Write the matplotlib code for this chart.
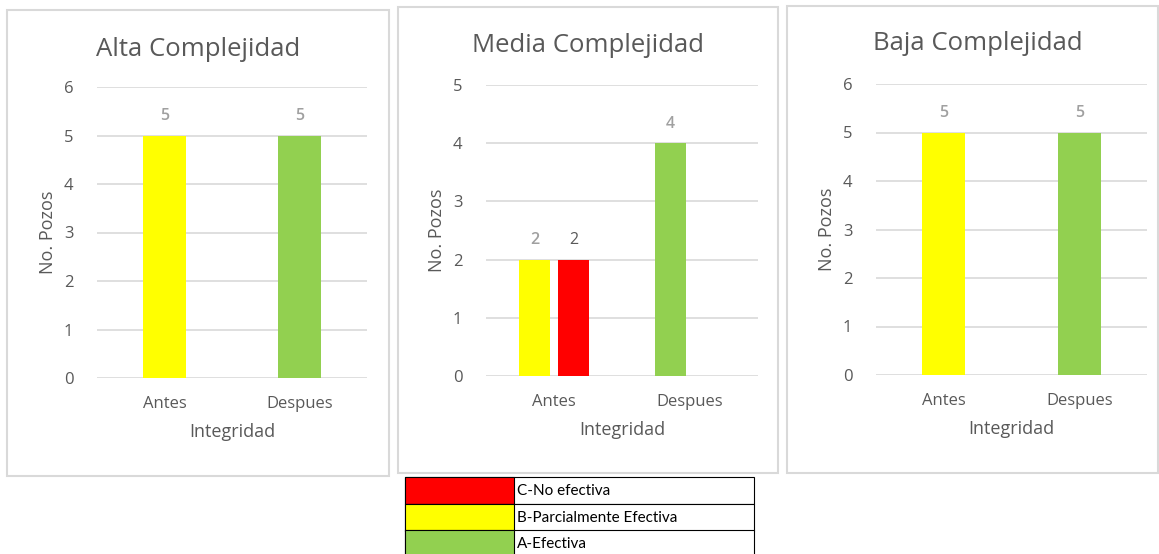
import matplotlib
matplotlib.use("Agg")
import matplotlib.pyplot as plt
from matplotlib.patches import Rectangle

plt.rcParams['font.family'] = ['Open Sans', 'DejaVu Sans']

categories = ["Antes", "Despues"]
titles = ["Alta Complejidad", "Media Complejidad", "Baja Complejidad"]

# Alta: one series, per-point colours
alta_values = [5, 5]
alta_colors = ["#FFFF00", "#92D050"]
# Media: two series per category
media_s1_values = [2, 4]
media_s1_colors = ["#FFFF00", "#92D050"]
media_s2_values = [2, None]
media_s2_colors = ["#FF0000", "#FF0000"]
# Baja
baja_values = [5, 5]
baja_colors = ["#FFFF00", "#92D050"]

legend_labels = ["C-No efectiva", "B-Parcialmente Efectiva", "A-Efectiva"]
legend_colors = ["#FF0000", "#FFFF00", "#92D050"]

W, H = 1159, 554
fig = plt.figure(figsize=(W / 100, H / 100), dpi=100)

def fx(px):
    return px / W

def fy(py):
    return 1 - py / H

TXT = "#595959"
GRID = "#D9D9D9"
LBL = "#A0A0A0"

# panel borders (x0, y0, x1, y1 in pixels)
borders = [(7, 10, 389, 476), (398, 7, 778, 473), (787, 6, 1158, 473)]
for x0, y0, x1, y1 in borders:
    fig.patches.append(Rectangle((fx(x0), fy(y1)), fx(x1 - x0), (y1 - y0) / H,
                                 transform=fig.transFigure, fill=False,
                                 edgecolor=GRID, linewidth=1.5))

# axes geometry: (left px, right px, top px, bottom px, ymax)
geoms = [(97, 367, 87, 378, 6), (486, 758, 85, 376, 5), (876, 1147, 84, 375, 6)]
axes = []
for (l, r, t, b, ymax) in geoms:
    ax = fig.add_axes([fx(l), fy(b), fx(r - l), (b - t) / H])
    ax.set_ylim(0, ymax)
    ax.set_xlim(-0.5, 1.5)
    ax.set_yticks(range(0, ymax + 1))
    ax.yaxis.grid(True, color=GRID, linewidth=1.2)
    ax.set_axisbelow(True)
    for s in ax.spines.values():
        s.set_visible(False)
    ax.tick_params(axis='both', length=0, colors=TXT, labelsize=12)
    ax.tick_params(axis='y', pad=17)
    ax.tick_params(axis='x', pad=13)
    ax.set_xticks(range(len(categories)))
    ax.set_xticklabels(categories)
    ax.set_ylabel("No. Pozos", color=TXT, fontsize=13, labelpad=5)
    ax.set_xlabel("Integridad", color=TXT, fontsize=13, labelpad=8)
    axes.append(ax)

x = list(range(len(categories)))

def single(ax, vals, cols):
    bars = ax.bar(x, vals, width=0.32, color=cols)
    for rect, v in zip(bars, vals):
        ax.annotate(str(v), (rect.get_x() + rect.get_width() / 2, v),
                    xytext=(0, 8), textcoords="offset points",
                    ha="center", va="bottom", color=LBL, fontsize=11.5, fontweight="semibold")

single(axes[0], alta_values, alta_colors)
single(axes[2], baja_values, baja_colors)

ax = axes[1]
bw = 0.23
off = 0.143
for i, (v, c) in enumerate(zip(media_s1_values, media_s1_colors)):
    if v is None:
        continue
    ax.bar(x[i] - off, v, width=bw, color=c)
    ax.annotate(str(v), (x[i] - off, v), xytext=(0, 8), textcoords="offset points",
                ha="center", va="bottom", color=LBL, fontsize=11.5, fontweight="semibold")
for i, (v, c) in enumerate(zip(media_s2_values, media_s2_colors)):
    if v is None:
        continue
    ax.bar(x[i] + off, v, width=bw, color=c)
    ax.annotate(str(v), (x[i] + off, v), xytext=(0, 8), textcoords="offset points",
                ha="center", va="bottom", color="#595959", fontsize=11.5)

# titles
title_pos = [(198, 49), (588, 45), (978, 44)]
for (px, py), t in zip(title_pos, titles):
    fig.text(fx(px), fy(py), t, ha="center", va="center", color=TXT, fontsize=18.5)

# legend table
lx0, lx1, lx2 = 405, 514, 754
row_tops = [477, 504, 530]
row_h = 26.5
for top, lab, col in zip(row_tops, legend_labels, legend_colors):
    fig.patches.append(Rectangle((fx(lx0), fy(top + row_h)), fx(lx2 - lx0), row_h / H,
                                 transform=fig.transFigure, facecolor="white",
                                 edgecolor="black", linewidth=0.8))
    fig.patches.append(Rectangle((fx(lx0), fy(top + row_h)), fx(lx1 - lx0), row_h / H,
                                 transform=fig.transFigure, facecolor=col,
                                 edgecolor="black", linewidth=0.8))
    fig.text(fx(lx1 + 3), fy(top + row_h / 2 + 1), lab, ha="left", va="center",
             color="black", fontsize=11, family=['Lato', 'DejaVu Sans'])

fig.savefig("out.png", dpi=100, facecolor="white")
